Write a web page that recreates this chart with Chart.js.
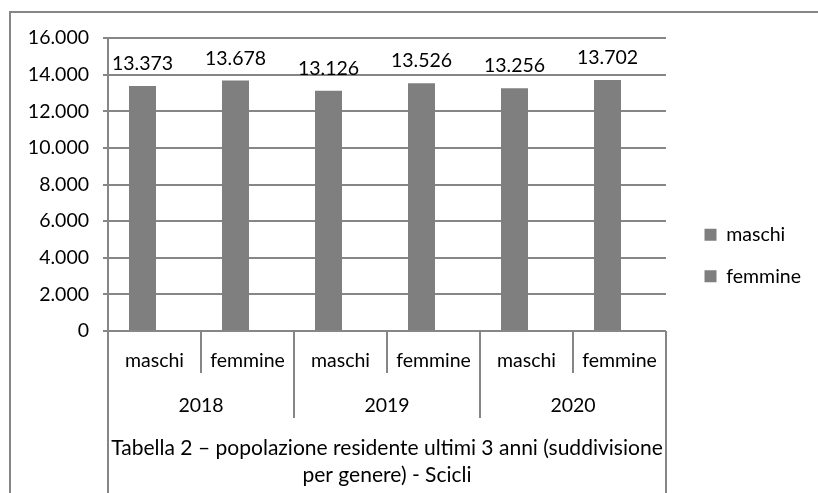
<!DOCTYPE html>
<html>
<head>
<meta charset="utf-8">
<script src="https://cdn.jsdelivr.net/npm/chart.js@4"></script>
<style>
    html, body { margin: 0; padding: 0; background: #fff; }
</style>
</head>
<body>
<canvas id="grafico" width="818" height="493"></canvas>
<script>
// dati
const categorie = ["maschi", "femmine", "maschi", "femmine", "maschi", "femmine"];
const anni = ["2018", "2019", "2020"];
const maschi = [13373, null, 13126, null, 13256, null];
const femmine = [null, 13678, null, 13526, null, 13702];
const vuoto = [null, null, null, null, null, null];
const yMin = 0;
const yMax = 16000;
const yPasso = 2000;
const titolo = ["Tabella 2 – popolazione residente ultimi 3 anni (suddivisione", "per genere) - Scicli"];

const FONT = 'Lato, "Open Sans", sans-serif';
const DIM = 19.5;
const GRIGIO = "#868686";
const BARRA = "#7f7f7f";
const PAD_DX = 7;

function formato(v) {
    return String(v).replace(/\B(?=(\d{3})+(?!\d))/g, ".");
}

// assi a più livelli (anni + titolo), cornice ed etichette dei valori
const assiMultilivello = {
    id: "assiMultilivello",
    beforeDraw(chart) {
        const ctx = chart.ctx;
        ctx.save();
        ctx.strokeStyle = GRIGIO;
        ctx.lineWidth = 2;
        ctx.strokeRect(10, 12, chart.width + 20, chart.height + 20);
        ctx.restore();
    },
    afterDraw(chart) {
        const ctx = chart.ctx;
        const area = chart.chartArea;
        const x = chart.scales.x;
        const passo = (area.right - area.left) / categorie.length;

        ctx.save();
        ctx.strokeStyle = GRIGIO;
        ctx.lineWidth = 2;
        for (let i = 0; i <= categorie.length; i++) {
            const px = Math.round(area.left + i * passo);
            let fine = area.bottom + 42;
            if (i === 0 || i === categorie.length) fine = chart.height;
            else if (i % 2 === 0) fine = area.bottom + 87;
            ctx.beginPath();
            ctx.moveTo(px, area.bottom);
            ctx.lineTo(px, fine);
            ctx.stroke();
        }

        ctx.fillStyle = "#000";
        ctx.textAlign = "center";
        ctx.textBaseline = "alphabetic";
        ctx.font = DIM + "px " + FONT;
        anni.forEach((a, i) => {
            const cx = (x.getPixelForValue(i * 2) + x.getPixelForValue(i * 2 + 1)) / 2;
            ctx.fillText(a, cx, area.bottom + 81);
        });

        // etichette sopra le barre
        chart.data.datasets.forEach((ds, di) => {
            const meta = chart.getDatasetMeta(di);
            meta.data.forEach((barra, j) => {
                const v = ds.data[j];
                if (v == null) return;
                ctx.fillText(formato(v), barra.x, barra.y - 16);
            });
        });

        // titolo dell'asse: la prima riga occupa tutta la larghezza
        ctx.font = DIM + "px " + FONT;
        const larg = ctx.measureText(titolo[0]).width;
        const dim = DIM * (area.right - area.left - 6) / larg;
        ctx.font = dim + "px " + FONT;
        const centro = (area.left + area.right) / 2;
        ctx.fillText(titolo[0], centro, area.bottom + 124);
        ctx.fillText(titolo[1], centro, area.bottom + 151);
        ctx.restore();
    }
};

const grafico = new Chart(document.getElementById("grafico"), {
    type: "bar",
    data: {
        labels: categorie,
        datasets: [
            { label: "maschi", data: maschi, stack: "valori", backgroundColor: BARRA, borderWidth: 0,
              categoryPercentage: 0.516, barPercentage: 1.125 },
            { label: "femmine", data: femmine, stack: "valori", backgroundColor: BARRA, borderWidth: 0,
              categoryPercentage: 0.516, barPercentage: 1.125 },
            { label: "", data: vuoto, stack: "vuoto", backgroundColor: BARRA, borderWidth: 0,
              categoryPercentage: 0.516, barPercentage: 1.125 }
        ]
    },
    options: {
        responsive: false,
        animation: false,
        layout: { padding: { left: 10, top: 38, right: PAD_DX, bottom: 20 } },
        plugins: {
            tooltip: { enabled: false },
            legend: {
                position: "right",
                align: "center",
                labels: {
                    boxWidth: 12,
                    boxHeight: 12,
                    padding: 22,
                    color: "#000",
                    font: { family: FONT, size: DIM },
                    filter: item => item.text !== ""
                }
            }
        },
        scales: {
            x: {
                stacked: true,
                ticks: { color: "#000", font: { family: FONT, size: DIM }, padding: 18, autoSkip: false, maxRotation: 0 },
                grid: { display: false, drawTicks: false },
                border: { display: false },
                afterFit(s) { s.height = 142; }
            },
            y: {
                stacked: true,
                min: yMin,
                max: yMax,
                ticks: { stepSize: yPasso, color: "#000", font: { family: FONT, size: DIM }, padding: 14,
                         callback: v => formato(v) },
                grid: { color: GRIGIO, lineWidth: 2, tickLength: 5 },
                border: { display: true, color: GRIGIO, width: 2 },
                afterFit(s) { s.width = 98; }
            },
            yR: {
                position: "right",
                min: 0,
                max: 1,
                ticks: { display: false },
                grid: { display: false, drawTicks: false },
                border: { display: false },
                afterFit(s) {
                    const lw = s.chart.legend ? s.chart.legend.width : 135;
                    s.width = Math.max(0, 818 - 666 - lw - PAD_DX);
                }
            }
        }
    },
    plugins: [assiMultilivello]
});
</script>
</body>
</html>
